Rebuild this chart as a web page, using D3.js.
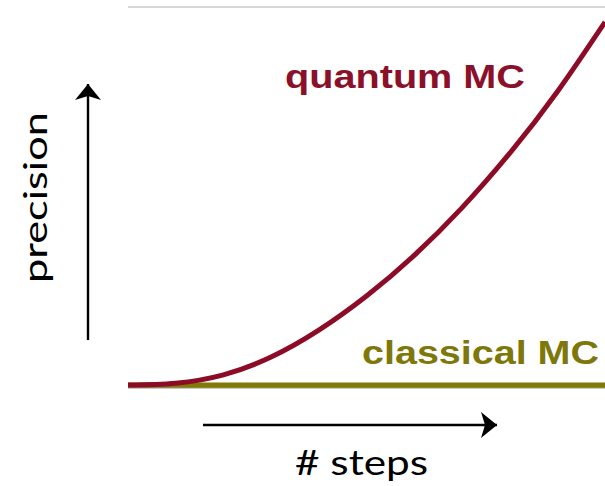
<!DOCTYPE html>
<html>
<head>
<meta charset="utf-8">
<script src="https://cdn.jsdelivr.net/npm/d3@7"></script>
<style>
  html, body { margin: 0; padding: 0; background: #fff; }
  svg { display: block; }
</style>
</head>
<body>
<svg id="chart" width="605" height="486"></svg>
<script>
// Number of steps (arbitrary units) and the precision reached by each method
const steps = [0, 1, 2, 3, 4, 5, 6, 7, 8, 9, 10];
const quantumPrecision = [0, 0.5, 2.8, 7.7, 15.1, 24.5, 35.7, 48.8, 63.8, 80.8, 100];
const classicalPrecision = [0, 0, 0, 0, 0, 0, 0, 0, 0, 0, 0];
const seriesNames = ["quantum MC", "classical MC"];
const axisTitles = ["# steps", "precision"];

const W = 605, H = 486;
const svg = d3.select("#chart");

const x = d3.scaleLinear().domain([0, 10]).range([128, 605]);
const y = d3.scaleLinear().domain([0, 100]).range([385, 22]);

svg.append("rect").attr("width", W).attr("height", H).attr("fill", "#fff");

// thin frame line along the top of the plot
svg.append("line")
  .attr("x1", x(0)).attr("x2", x(10))
  .attr("y1", 7).attr("y2", 7)
  .attr("stroke", "#c9c9c9").attr("stroke-width", 1.6);

const line = d3.line()
  .x(d => x(d[0]))
  .y(d => y(d[1]))
  .curve(d3.curveNatural);

const classical = steps.map((s, i) => [s, classicalPrecision[i]]);
const quantum = steps.map((s, i) => [s, quantumPrecision[i]]);

// shadow under the classical line
svg.append("path")
  .datum(classical)
  .attr("d", line)
  .attr("transform", "translate(0,2.5)")
  .attr("fill", "none")
  .attr("stroke", "#3d3a10")
  .attr("stroke-opacity", 0.55)
  .attr("stroke-width", 2);

svg.append("path")
  .datum(classical)
  .attr("d", line)
  .attr("fill", "none")
  .attr("stroke", "#817a05")
  .attr("stroke-width", 5);

svg.append("path")
  .datum(quantum)
  .attr("d", line)
  .attr("fill", "none")
  .attr("stroke", "#8c0c27")
  .attr("stroke-width", 5)
  .attr("stroke-linecap", "butt");

// series labels
svg.append("text")
  .attr("x", 285).attr("y", 88)
  .attr("font-family", "'Liberation Sans', Arial, sans-serif")
  .attr("font-weight", "bold")
  .attr("font-size", 33)
  .attr("textLength", 240)
  .attr("lengthAdjust", "spacingAndGlyphs")
  .attr("fill", "#8a1129")
  .text(seriesNames[0]);

svg.append("text")
  .attr("x", 362).attr("y", 364)
  .attr("font-family", "'Liberation Sans', Arial, sans-serif")
  .attr("font-weight", "bold")
  .attr("font-size", 34)
  .attr("textLength", 237)
  .attr("lengthAdjust", "spacingAndGlyphs")
  .attr("fill", "#7e770a")
  .text(seriesNames[1]);

// axis arrows
const defs = svg.append("defs");
defs.append("marker")
  .attr("id", "arrow")
  .attr("viewBox", "0 0 16 26")
  .attr("refX", 16).attr("refY", 13)
  .attr("markerWidth", 16).attr("markerHeight", 26)
  .attr("markerUnits", "userSpaceOnUse")
  .attr("orient", "auto")
  .append("path")
  .attr("d", "M0,0 L16,13 L0,26 L4,13 Z")
  .attr("fill", "#000");

svg.append("line")
  .attr("x1", 203).attr("x2", 497)
  .attr("y1", 425).attr("y2", 425)
  .attr("stroke", "#000").attr("stroke-width", 2.4)
  .attr("marker-end", "url(#arrow)");

svg.append("line")
  .attr("x1", 88).attr("x2", 88)
  .attr("y1", 340).attr("y2", 84)
  .attr("stroke", "#000").attr("stroke-width", 2.4)
  .attr("marker-end", "url(#arrow)");

// axis titles
svg.append("text")
  .attr("x", 295).attr("y", 475)
  .attr("font-family", "Lato, 'Open Sans', sans-serif")
  .attr("font-size", 35)
  .attr("textLength", 133)
  .attr("lengthAdjust", "spacingAndGlyphs")
  .attr("fill", "#000")
  .text(axisTitles[0]);

svg.append("text")
  .attr("transform", "translate(47,283) rotate(-90)")
  .attr("x", 0).attr("y", 0)
  .attr("font-family", "Lato, 'Open Sans', sans-serif")
  .attr("font-size", 33)
  .attr("textLength", 171)
  .attr("lengthAdjust", "spacingAndGlyphs")
  .attr("fill", "#000")
  .text(axisTitles[1]);
</script>
</body>
</html>
